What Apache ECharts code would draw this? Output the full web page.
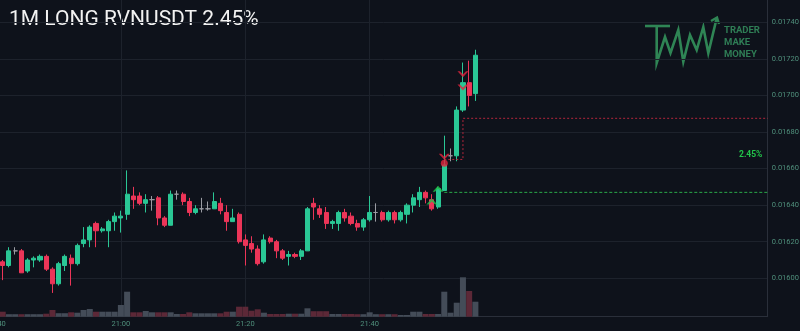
<!DOCTYPE html>
<html><head><meta charset="utf-8">
<script src="https://cdn.jsdelivr.net/npm/echarts@6/dist/echarts.min.js"></script>
<style>html,body{margin:0;padding:0;background:#0e121b;}#c{width:800px;height:331px;}</style>
</head><body><div id="c"></div>
<script>
// ---- data ----
const firstSlot = '20:40';
const slotCount = 125;
const tickLabels = ['20:40', '21:00', '21:20', '21:40'];
const priceTicks = [0.0160, 0.0162, 0.0164, 0.0166, 0.0168, 0.0170, 0.0172, 0.0174];
const firstCandle = '20:41';
const opens = [
0.01609,0.01607,0.01615,0.01615,0.01604,0.01610,0.01610,0.01612,0.01605,0.01597,
0.01607,0.01611,0.01608,0.01619,0.01621,0.01630,0.01626,0.01626,0.01631,0.01633,
0.01635,0.01645,0.01645,0.01641,0.01643,0.01644,0.01633,0.01629,0.01646,0.01646,
0.01642,0.01636,0.01638,0.01638,0.01638,0.01641,0.01636,0.01631,0.01635,0.01621,
0.01619,0.01616,0.01609,0.01622,0.01620,0.01615,0.01612,0.01613,0.01612,0.01615,
0.01641,0.01638,0.01636,0.01630,0.01630,0.01636,0.01634,0.01630,0.01628,0.01632,
0.01636,0.01636,0.01632,0.01636,0.01632,0.01635,0.01640,0.01643,0.01647,0.01643,
0.01639,0.01648,0.01667,0.01667,0.01692,0.01707,0.01701];
const highs = [
0.01610,0.01617,0.01617,0.01616,0.01611,0.01612,0.01613,0.01613,0.01606,0.01609,
0.01613,0.01613,0.01619,0.01628,0.01629,0.01631,0.01628,0.01632,0.01636,0.01637,
0.01659,0.01650,0.01647,0.01646,0.01645,0.01645,0.01634,0.01648,0.01648,0.01647,
0.01644,0.01640,0.01644,0.01642,0.01647,0.01644,0.01640,0.01638,0.01636,0.01624,
0.01623,0.01618,0.01624,0.01623,0.01621,0.01616,0.01615,0.01614,0.01616,0.01639,
0.01644,0.01640,0.01639,0.01632,0.01637,0.01638,0.01636,0.01632,0.01633,0.01645,
0.01641,0.01637,0.01637,0.01637,0.01637,0.01641,0.01646,0.01650,0.01648,0.01646,
0.01650,0.01678,0.01671,0.01694,0.01718,0.01719,0.01725];
const lows = [
0.01599,0.01606,0.01613,0.01603,0.01603,0.01606,0.01609,0.01604,0.01592,0.01596,
0.01604,0.01596,0.01607,0.01617,0.01617,0.01617,0.01625,0.01617,0.01626,0.01625,
0.01632,0.01638,0.01640,0.01636,0.01637,0.01629,0.01628,0.01629,0.01643,0.01640,
0.01634,0.01635,0.01636,0.01637,0.01638,0.01635,0.01626,0.01631,0.01619,0.01607,
0.01614,0.01607,0.01608,0.01619,0.01611,0.01610,0.01607,0.01611,0.01610,0.01615,
0.01632,0.01633,0.01627,0.01627,0.01626,0.01631,0.01629,0.01626,0.01626,0.01631,
0.01631,0.01631,0.01631,0.01630,0.01631,0.01630,0.01636,0.01639,0.01641,0.01637,
0.01638,0.01648,0.01664,0.01664,0.01691,0.01694,0.01697];
const closes = [
0.01607,0.01615,0.01615,0.01603,0.01610,0.01611,0.01612,0.01605,0.01597,0.01608,
0.01612,0.01608,0.01618,0.01621,0.01628,0.01626,0.01627,0.01631,0.01634,0.01634,
0.01646,0.01643,0.01641,0.01643,0.01643,0.01633,0.01629,0.01646,0.01646,0.01642,
0.01636,0.01638,0.01638,0.01638,0.01642,0.01637,0.01631,0.01633,0.01620,0.01618,
0.01616,0.01608,0.01621,0.01620,0.01615,0.01611,0.01613,0.01612,0.01615,0.01638,
0.01639,0.01635,0.01630,0.01631,0.01636,0.01633,0.01630,0.01628,0.01632,0.01636,
0.01636,0.01632,0.01636,0.01632,0.01636,0.01640,0.01644,0.01647,0.01644,0.01638,
0.01649,0.01662,0.01667,0.01692,0.01707,0.01700,0.01722];
const volumes = [
50,25,25,25,25,25,25,30,67,35,
35,44,40,67,77,50,50,50,50,117,
250,44,44,57,44,44,44,44,27,27,
44,34,34,34,34,34,50,50,100,100,
60,74,40,27,27,27,30,30,30,84,
55,55,55,27,27,27,27,25,25,44,
25,25,25,25,17,17,50,50,27,27,
27,250,40,140,394,257,150];
const buySignals = [['21:50', 0.01642], ['21:51', 0.01649]];
const sellSignals = [['21:52', 0.016665], ['21:55', 0.017116], ['21:55', 0.017044]];
const exitDots = [['21:52', 0.016629]];
const entryTime = '21:52';
const entryPrice = 0.01647;
const stopSteps = [['21:52', 0.01665], ['21:55', 0.016875]];
const titleText = '1M LONG RVNUSDT 2.45%';
const pctText = '2.45%';

// ---- build ----
const pad = n => (n < 10 ? '0' : '') + n;
const [sh, sm] = firstSlot.split(':').map(Number);
const categories = [];
for (let i = 0; i < slotCount; i++) { const t = sh * 60 + sm + i; categories.push(pad(Math.floor(t / 60) % 24) + ':' + pad(t % 60)); }
const idx = t => categories.indexOf(t);
const off = idx(firstCandle);
const UP = '#2ac795', DOWN = '#ec3558', DOJI = '#9a9ca3';
const VUP = '#444c58', VDOWN = '#5c2837';
const candleData = opens.map((o, i) => {
  const item = { value: [off + i, o, closes[i], lows[i], highs[i]] };
  if (o === closes[i]) item.itemStyle = { color: DOJI, color0: DOJI, borderColor: DOJI, borderColor0: DOJI };
  return item;
});
const volData = volumes.map((v, i) => ({ value: [off + i, v], itemStyle: { color: closes[i] >= opens[i] ? VUP : VDOWN } }));
const lastIdx = slotCount - 1;
const gridC = '#1d222c', borderC = '#2a2f3a', labC = '#4f8f7b';
// split lines: bottom (min) hidden, the 8 price ticks shown, top (max) hidden
const splitColors = ['transparent'].concat(priceTicks.map(() => gridC), ['transparent']);

const chart = echarts.init(document.getElementById('c'), null, { renderer: 'canvas' });
const upChevron = 'path://M0,9 L8,0 L16,9 L12.5,9 L8,4.5 L3.5,9 Z';
const downChevron = 'path://M0,0 L8,9 L16,0 L12.5,0 L8,4.5 L3.5,0 Z';
chart.setOption({
  backgroundColor: '#0e121b',
  animation: false,
  grid: [
    { left: -3.5, right: 32.3, top: 0, bottom: 16.13, outerBoundsMode: 'none', containLabel: false },
    { left: -3.5, right: 32.3, bottom: 14.3, height: 60, outerBoundsMode: 'none', containLabel: false }
  ],
  xAxis: [
    { type: 'category', gridIndex: 0, data: categories, boundaryGap: false,
      axisLine: { show: false }, axisTick: { show: false }, axisLabel: { show: false },
      splitLine: { show: true, interval: (i, v) => tickLabels.includes(categories[i]), lineStyle: { color: gridC, width: 1 } } },
    { type: 'category', gridIndex: 1, data: categories, boundaryGap: false,
      axisLine: { show: true, lineStyle: { color: borderC } }, axisTick: { show: false },
      axisLabel: { interval: (i, v) => tickLabels.includes(categories[i]), color: labC, fontSize: 7.5, margin: 3, fontFamily: 'Roboto', showMinLabel: true, hideOverlap: false },
      splitLine: { show: false } }
  ],
  yAxis: [
    { type: 'value', gridIndex: 0, position: 'right', min: 0.0158, max: 0.017522, interval: 0.0002,
      axisLine: { show: true, lineStyle: { color: borderC } }, axisTick: { show: false },
      axisLabel: { color: labC, fontSize: 7.5, margin: 4, fontFamily: 'Roboto', showMaxLabel: false,
        formatter: v => priceTicks.some(p => Math.abs(p - v) < 1e-7) ? v.toFixed(5) : '' },
      splitLine: { show: true, lineStyle: { color: splitColors, width: 1 } } },
    { type: 'value', gridIndex: 1, position: 'right', min: 0, max: 600,
      axisLine: { show: true, lineStyle: { color: borderC } }, axisTick: { show: false },
      axisLabel: { show: false }, splitLine: { show: false } }
  ],
  series: [
    { type: 'bar', xAxisIndex: 1, yAxisIndex: 1, data: volData, barWidth: 6, silent: true },
    { type: 'line', xAxisIndex: 0, yAxisIndex: 0, symbol: 'none', silent: true,
      data: [[idx(entryTime), entryPrice], [lastIdx, entryPrice]],
      lineStyle: { color: '#2aa84a', width: 1, type: [3, 2] } },
    { type: 'line', xAxisIndex: 0, yAxisIndex: 0, symbol: 'none', silent: true, step: 'end',
      data: stopSteps.map(s => [idx(s[0]), s[1]]).concat([[lastIdx, stopSteps[stopSteps.length - 1][1]]]),
      lineStyle: { color: '#b3263c', width: 1, type: [2, 2] } },
    { type: 'candlestick', xAxisIndex: 0, yAxisIndex: 0, data: candleData, barWidth: 4.6,
      encode: { x: 0, y: [1, 2, 3, 4] },
      itemStyle: { color: UP, color0: DOWN, borderColor: UP, borderColor0: DOWN, borderWidth: 1 } },
    { type: 'scatter', xAxisIndex: 0, yAxisIndex: 0, symbol: 'circle', symbolSize: 7, z: 5,
      data: exitDots.map(s => [idx(s[0]), s[1]]), itemStyle: { color: '#e3243f' } },
    { type: 'scatter', xAxisIndex: 0, yAxisIndex: 0, symbol: upChevron, symbolSize: [11, 6], z: 6,
      data: buySignals.map(s => [idx(s[0]), s[1]]), itemStyle: { color: '#22c24a' } },
    { type: 'scatter', xAxisIndex: 0, yAxisIndex: 0, symbol: downChevron, symbolSize: [11, 6], z: 6,
      data: sellSignals.map(s => [idx(s[0]), s[1]]), itemStyle: { color: '#e3243f' } }
  ],
  graphic: [
    { type: 'text', left: 9, top: 9, style: { text: titleText, fill: '#f2f2f2', font: '21px Roboto' } },
    { type: 'text', left: 739, top: 150, style: { text: pctText, fill: '#22c44a', font: 'bold 8.5px Roboto' } },
    { type: 'polyline', shape: { points: [[645, 26], [670, 26]] }, style: { stroke: '#2f8555', lineWidth: 2.6, fill: null } },
    { type: 'polyline', shape: { points: [[656.7, 26], [656.7, 63], [665, 37], [670.5, 53], [678.3, 30], [683.3, 61.7], [690, 35], [696.7, 50], [703.3, 27], [708.3, 53], [716.5, 19]] },
      style: { stroke: '#2f8555', lineWidth: 2.6, fill: null, lineJoin: 'miter' } },
    { type: 'polyline', shape: { points: [[711, 21], [717, 17.5], [719, 24]] }, style: { stroke: '#2f8555', lineWidth: 2.4, fill: null } },
    { type: 'text', left: 724, top: 25, style: { text: 'TRADER\nMAKE\nMONEY', fill: '#2f7d55', font: 'bold 9.5px Roboto', lineHeight: 12 } }
  ]
});
</script></body></html>
